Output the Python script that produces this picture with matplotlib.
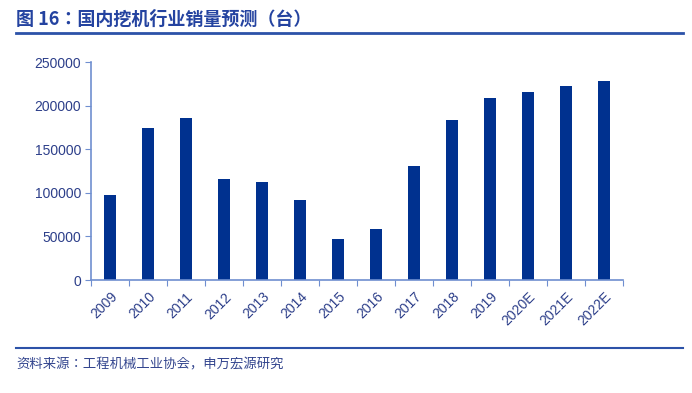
import matplotlib
matplotlib.use('Agg')
import matplotlib.pyplot as plt
import numpy as np

# data
years = ['2009', '2010', '2011', '2012', '2013', '2014', '2015', '2016',
         '2017', '2018', '2019', '2020E', '2021E', '2022E']
sales = [97500, 174000, 185500, 115300, 112200, 91200, 46600, 58800,
         130200, 184000, 208800, 216100, 222200, 228700]
yticks = [0, 50000, 100000, 150000, 200000, 250000]

title = '图 16：国内挖机行业销量预测（台）'
source = '资料来源：工程机械工业协会，申万宏源研究'

bar_color = '#00318f'
axis_color = '#6f8fd0'
label_color = '#2d3f8a'
# TC variant puts the full-width colon in the middle of the cell
cjk = ['Noto Sans CJK TC', 'DejaVu Sans']
cjk_foot = ['Noto Sans CJK KR', 'Noto Sans CJK SC', 'DejaVu Sans']

fig = plt.figure(figsize=(6.92, 3.93), dpi=100)
ax = fig.add_axes([91/692, 1 - 280/393, (623 - 91)/692, (280 - 62)/393])

x = np.arange(len(years))
ax.bar(x, sales, width=0.31, color=bar_color, zorder=2)

ax.set_xlim(-0.5, len(years) - 0.5)
ax.set_ylim(0, 250000)
ax.set_yticks(yticks)
ax.set_yticklabels([str(v) for v in yticks], fontsize=10,
                   family='Liberation Sans', color=label_color)

# ticks sit between the bars, labels centred under the bars
ax.set_xticks(np.arange(len(years) + 1) - 0.5)
ax.set_xticklabels([])
ax.set_xticks(x, minor=True)
ax.set_xticklabels(years, minor=True, rotation=45, ha='right',
                   rotation_mode='anchor', fontsize=10,
                   family='Liberation Sans', color=label_color)
ax.tick_params(axis='x', which='major', length=4, color=axis_color, direction='out')
ax.tick_params(axis='x', which='minor', length=0, pad=7)
ax.tick_params(axis='y', length=4, color=axis_color, direction='out', pad=3)

for s in ['top', 'right']:
    ax.spines[s].set_visible(False)
for s in ['left', 'bottom']:
    ax.spines[s].set_color(axis_color)
    ax.spines[s].set_linewidth(1.2)

# header and footer
fig.text(16/692, 1 - 19/393, title, fontsize=13, fontweight='bold',
         family=cjk, color='#2443a0', va='center', ha='left')
fig.add_artist(plt.Line2D([16/692, 683/692], [1 - 33/393, 1 - 33/393],
                          color='#2c52a8', linewidth=2))
fig.add_artist(plt.Line2D([16/692, 683/692], [1 - 348/393, 1 - 348/393],
                          color='#2c52a8', linewidth=1.5))
fig.text(16/692, 1 - 364/393, source, fontsize=9.6, family=cjk_foot,
         color='#34468f', va='center', ha='left')

fig.savefig('out.png', dpi=100)
